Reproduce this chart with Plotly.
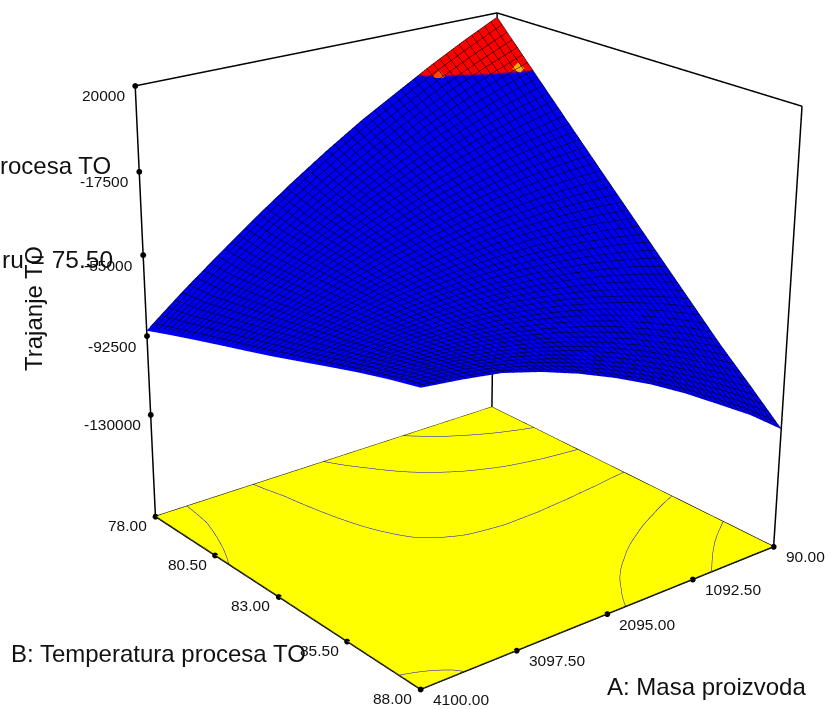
import math
import plotly.graph_objects as go

# ---------- data ----------
A_VALUES = [90, 491, 892, 1293, 1694, 2095, 2496, 2897, 3298, 3699, 4100]
B_VALUES = [78, 79, 80, 81, 82, 83, 84, 85, 86, 87, 88]
# response (rows follow B_VALUES, columns follow A_VALUES)
Z_TABLE = [
    [18000, 10100, 1600, -7600, -16900, -27300, -38500, -50400, -63000, -76000, -90000],
    [3400, -2600, -9200, -16600, -24700, -33500, -43000, -53200, -64100, -75300, -85900],
    [-11100, -15200, -20000, -25500, -31700, -38600, -46300, -54700, -63800, -73000, -82000],
    [-25500, -27700, -30500, -34200, -38500, -43600, -49400, -56000, -63200, -70800, -78200],
    [-39900, -40100, -41000, -42700, -45200, -48400, -52400, -57100, -62600, -68500, -74500],
    [-54200, -52400, -51400, -51100, -51600, -53000, -55100, -58100, -61800, -66000, -70700],
    [-68500, -64600, -61600, -59400, -58000, -57500, -57800, -59000, -61000, -63600, -66600],
    [-82700, -76700, -71700, -67500, -64200, -61800, -60300, -59700, -60000, -61000, -62500],
    [-96900, -88800, -81600, -75400, -70200, -65900, -62600, -60200, -58800, -58300, -58500],
    [-110000, -100700, -91500, -83300, -76100, -69900, -64800, -60700, -57600, -55500, -54900],
    [-123500, -111500, -101200, -91000, -81800, -73800, -66800, -60900, -56200, -53700, -51800],
]
A_TICKS = [90.0, 1092.5, 2095.0, 3097.5, 4100.0]
A_TICK_LABELS = ["90.00", "1092.50", "2095.00", "3097.50", "4100.00"]
B_TICKS = [78.0, 80.5, 83.0, 85.5, 88.0]
B_TICK_LABELS = ["78.00", "80.50", "83.00", "85.50", "88.00"]
Z_TICKS = [20000, -17500, -55000, -92500, -130000]
Z_TICK_LABELS = ["20000", "-17500", "-55000", "-92500", "-130000"]
Z_FLOOR = -180000
Z_TOP = 20000
CONTOUR_LEVELS = (-102000, -6000, 24000)   # first, last, step
RED_ABOVE = -1000
MESH_CELLS = 52
ODD_CELL_A = [220, 900]
ODD_CELL_B = [79.2, 78.35]
ODD_CELL_Z = [-300, -1800]
ODD_CELL_COLORS = ["#ffb000", "#ff5000"]

FONT = "Liberation Sans"
A0, A1 = A_VALUES[0], A_VALUES[-1]
B0, B1 = B_VALUES[0], B_VALUES[-1]

# ---------- camera fitted to the box of the reference ----------
azim, elev, dist, focal = 0.88403, 0.37933, 5.15723, 2374.21
look_right, look_up = -0.09757, -0.07151
ASPECT_Y, ASPECT_Z = 0.97761, 1.01668
eye = [dist*math.cos(elev)*math.cos(azim), dist*math.cos(elev)*math.sin(azim), dist*math.sin(elev)]
fw = [-e/dist for e in eye]
r = [fw[1], -fw[0], 0.0]
rn = math.hypot(r[0], r[1]); r = [v/rn for v in r]
u = [r[1]*fw[2]-r[2]*fw[1], r[2]*fw[0]-r[0]*fw[2], r[0]*fw[1]-r[1]*fw[0]]
center = [look_right*r[i] + look_up*u[i] for i in range(3)]
FOVY = 2*math.atan(354.5/focal)

# the drawn box sits a little inside the scene limits, or its lines get clipped away
PAD = 0.01
def padded(lo, hi):
    m = (hi-lo)*PAD
    return [lo-m, hi+m]

fig = go.Figure()

# response surface
red_at = (RED_ABOVE-Z_FLOOR)/(Z_TOP-Z_FLOOR)
fig.add_trace(go.Surface(
    x=A_VALUES, y=B_VALUES, z=Z_TABLE, surfacecolor=Z_TABLE,
    cmin=Z_FLOOR, cmax=Z_TOP,
    colorscale=[[0, "#0000f0"], [red_at, "#0000f0"], [red_at, "#ff0000"], [1, "#ff0000"]],
    showscale=False, hoverinfo="skip",
    lighting=dict(ambient=1, diffuse=0, specular=0, fresnel=0, roughness=1),
    contours=dict(
        x=dict(show=True, start=A0, end=A1+1, size=(A1-A0)/MESH_CELLS, color="#000000", width=2),
        y=dict(show=True, start=B0, end=B1+0.001, size=(B1-B0)/MESH_CELLS, color="#000000", width=2),
        z=dict(show=False),
    ),
))

# yellow floor: the same response flattened onto the floor, so its contours are the real ones
EPS = 1e-3
floor_z = [[Z_FLOOR + (v - Z_FLOOR)*EPS for v in row] for row in Z_TABLE]
fig.add_trace(go.Surface(
    x=A_VALUES, y=B_VALUES, z=floor_z,
    colorscale=[[0, "#ffff00"], [1, "#ffff00"]], showscale=False, hoverinfo="skip",
    lighting=dict(ambient=1, diffuse=0, specular=0, fresnel=0, roughness=1),
    contours=dict(
        x=dict(show=False), y=dict(show=False),
        z=dict(show=True,
               start=Z_FLOOR + (CONTOUR_LEVELS[0]-Z_FLOOR)*EPS,
               end=Z_FLOOR + (CONTOUR_LEVELS[1]-Z_FLOOR)*EPS + 0.01,
               size=CONTOUR_LEVELS[2]*EPS, color="#0000ff", width=6),
    ),
))

# wire frame of the box
def seg(p, q, w=3):
    fig.add_trace(go.Scatter3d(x=[p[0], q[0]], y=[p[1], q[1]], z=[p[2], q[2]], mode="lines",
                               line=dict(color="#000000", width=w), hoverinfo="skip", showlegend=False))
for a, b in [(A0, B0), (A1, B0), (A0, B1)]:
    seg((a, b, Z_FLOOR), (a, b, Z_TOP))
seg((A0, B0, Z_TOP), (A1, B0, Z_TOP))
seg((A0, B0, Z_TOP), (A0, B1, Z_TOP))
seg((A0, B0, Z_FLOOR), (A1, B0, Z_FLOOR))
seg((A0, B0, Z_FLOOR), (A0, B1, Z_FLOOR))
seg((A1, B0, Z_FLOOR), (A1, B1, Z_FLOOR))
seg((A0, B1, Z_FLOOR), (A1, B1, Z_FLOOR))

# tick dots
tx = [A1]*len(Z_TICKS) + A_TICKS + [A1]*len(B_TICKS)
ty = [B0]*len(Z_TICKS) + [B1]*len(A_TICKS) + B_TICKS
tz = Z_TICKS + [Z_FLOOR]*(len(A_TICKS)+len(B_TICKS))
fig.add_trace(go.Scatter3d(x=tx, y=ty, z=tz, mode="markers",
                           marker=dict(color="#000000", size=3.4, line=dict(width=0)),
                           hoverinfo="skip", showlegend=False))

# two odd cells at the colour boundary
fig.add_trace(go.Scatter3d(x=ODD_CELL_A, y=ODD_CELL_B, z=ODD_CELL_Z, mode="markers",
                           marker=dict(color=ODD_CELL_COLORS, size=4, symbol="diamond", line=dict(width=0)),
                           hoverinfo="skip", showlegend=False))

# tick labels as real text tied to the data
tick_font = dict(family=FONT, size=15.5, color="#111111")
notes = []
for v, t in zip(Z_TICKS, Z_TICK_LABELS):
    notes.append(dict(x=A1, y=B0, z=v, text=t, showarrow=False, xanchor="right", yanchor="middle",
                      xshift=-8, yshift=-10, font=tick_font))
for v, t in zip(A_TICKS, A_TICK_LABELS):
    notes.append(dict(x=v, y=B1, z=Z_FLOOR, text=t, showarrow=False, xanchor="left", yanchor="middle",
                      xshift=10, yshift=-10, font=tick_font))
for v, t in zip(B_TICKS, B_TICK_LABELS):
    notes.append(dict(x=A1, y=v, z=Z_FLOOR, text=t, showarrow=False, xanchor="center", yanchor="middle",
                      xshift=-28, yshift=-9, font=tick_font))

W, H = 834, 709
title_font = dict(family=FONT, size=24, color="#111111")
def px(x, y, text, xa, rot=0, size=None):
    f = dict(title_font)
    if size: f["size"] = size
    return dict(xref="paper", yref="paper", x=x/W, y=1-y/H, text=text, showarrow=False,
                xanchor=xa, yanchor="middle", textangle=rot, font=f)

fig.update_layout(
    width=W, height=H, margin=dict(l=0, r=0, t=0, b=0), paper_bgcolor="#ffffff", showlegend=False,
    annotations=[
        px(605, 686, "A: Masa proizvoda", "left"),
        px(9, 653, "B: Temperatura procesa TO", "left"),
        px(33, 309, "Trajanje TO", "center", rot=-90),
        px(113, 166, "rocesa TO", "right", size=24),
        px(115, 259, "ru = 75.50", "right", size=24.5),
    ],
    scene=dict(
        domain=dict(x=[0, 1], y=[0, 1]),
        xaxis=dict(visible=False, range=padded(A0, A1)),
        yaxis=dict(visible=False, range=padded(B0, B1)),
        zaxis=dict(visible=False, range=padded(Z_FLOOR, Z_TOP)),
        aspectmode="manual",
        aspectratio=dict(x=1+2*PAD, y=ASPECT_Y*(1+2*PAD), z=ASPECT_Z*(1+2*PAD)),
        camera=dict(eye=dict(x=eye[0], y=eye[1], z=eye[2]),
                    center=dict(x=center[0], y=center[1], z=center[2]),
                    up=dict(x=0, y=0, z=1)),
        annotations=notes,
        bgcolor="#ffffff",
    ),
)

POST = """
document.body.style.margin = '0';
document.body.style.overflow = 'hidden';
var gd = document.getElementById('{plot_id}');
function narrow() {
  var s = gd._fullLayout && gd._fullLayout.scene && gd._fullLayout.scene._scene;
  if (!s || !s.glplot) { return setTimeout(narrow, 50); }
  s.glplot.fovy = %f;
  s.glplot.redraw();
}
narrow();
""" % FOVY
fig.write_html("out.html", config={"displayModeBar": False}, post_script=POST)
